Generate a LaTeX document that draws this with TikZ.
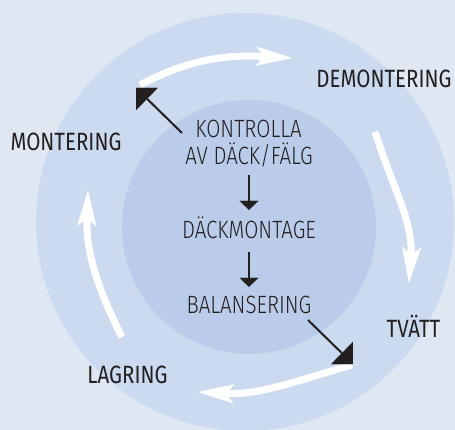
\documentclass[tikz,border=0pt]{standalone}
\usepackage{fontspec}
\setmainfont{Fira Sans}
\newfontfamily\outerfont{Fira Sans}[FakeStretch=0.82]
\newfontfamily\innerfont{Fira Sans Light}[FakeStretch=0.82]
\usetikzlibrary{arrows.meta}
\definecolor{bg}{RGB}{223,231,243}
\definecolor{ring}{RGB}{204,218,239}
\definecolor{core}{RGB}{186,204,233}
\definecolor{ink}{RGB}{35,31,32}
\begin{document}
\begin{tikzpicture}[x=1pt,y=1pt,
  outerlbl/.style={font=\outerfont\fontsize{25}{25}\selectfont, text=ink, inner sep=0pt, anchor=base},
  innerlbl/.style={font=\innerfont\fontsize{25}{25}\selectfont, text=ink, inner sep=0pt, anchor=base, text height=17.5pt, text depth=0pt},
  wharrow/.style={draw=white, line width=7pt, -{Stealth[length=36pt,width=19pt,inset=8pt,line width=0.01pt,fill=white]}},
  diagarrow/.style={draw=ink, line width=2pt, -{Triangle[length=15.5pt,width=31pt,line width=0.01pt,fill=ink]}},
  downarrow/.style={draw=ink, line width=1.3pt, -{Triangle[length=9pt,width=19pt,line width=0.01pt,fill=ink]}}]
\useasboundingbox (0,0) rectangle (455,430);
\clip (0,0) rectangle (455,430);
\fill[bg] (0,0) rectangle (455,430);
\fill[ring] (245,208) circle[radius=209];
\fill[core] (249,203) circle[radius=127];

% labels
\node[outerlbl] (demont) at (384,342) {DEMONTERING};
\node[outerlbl] (mont) at (66,279) {MONTERING};
\node[outerlbl] (tvatt) at (413.5,92) {TVÄTT};
\node[outerlbl] (lagr) at (127.5,46) {LAGRING};
\node[innerlbl] (kontr) at (248.5,292) {KONTROLLA};
\node[innerlbl] (avdack) at (249,265) {AV DÄCK/FÄLG};
\node[innerlbl] (dackm) at (249,191) {DÄCKMONTAGE};
\node[innerlbl] (balans) at (249,116) {BALANSERING};

% white cycle arrows
\coordinate (ws1) at (140,345);
\coordinate (we1) at (292,372);
\coordinate (ws2) at (375,298);
\coordinate (we2) at (409,147);
\coordinate (ws3) at (352,65);
\coordinate (we3) at (198,38);
\coordinate (ws4) at (122,93);
\coordinate (we4) at (88,240);
\draw[wharrow] (ws1) to[out=28,in=177] (we1);
\draw[wharrow] (ws2) to[out=-72,in=86] (we2);
\draw[wharrow] (ws3) to[out=196,in=-3] (we3);
\draw[wharrow] (ws4) to[out=117,in=-92] (we4);

% inner flow arrows
\draw[downarrow] (avdack.south) -- (dackm.north) [shorten <=10pt, shorten >=11.5pt];
\draw[downarrow, shorten <=13pt, shorten >=9.5pt] (dackm.south) -- (balans.north);

% diagonal arrows
\coordinate (d1s) at (182,297);
\coordinate (d1e) at (136,342);
\coordinate (d2s) at (308,110);
\coordinate (d2e) at (353,66);
\draw[diagarrow] (d1s) -- (d1e);
\draw[diagarrow] (d2s) -- (d2e);
\end{tikzpicture}
\end{document}
